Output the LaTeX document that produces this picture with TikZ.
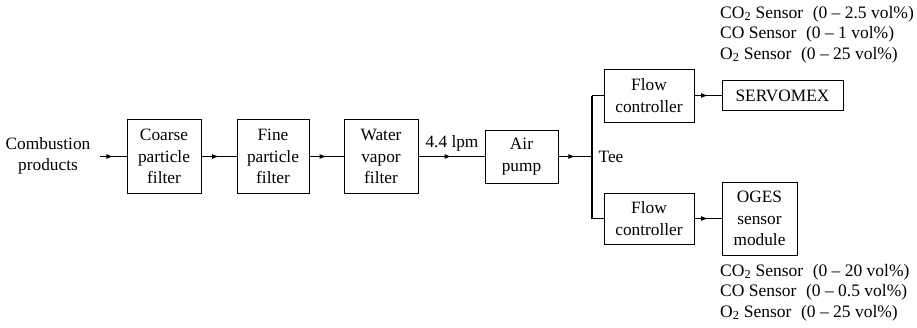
\documentclass[tikz,border=0pt]{standalone}
\usepackage{fontspec}
\setmainfont{Liberation Serif}
\usetikzlibrary{arrows.meta,decorations.markings}
\begin{document}
\begin{tikzpicture}[x=1pt,y=-1pt,
  every node/.style={font=\fontsize{17.3}{21.5}\selectfont},
  blk/.style={draw,line width=1pt,align=center,inner sep=0pt},
  flow/.style={line width=1.1pt,postaction={decorate},
    decoration={markings,mark=at position 0.5 with {\arrow{Latex[length=7pt,width=5pt]}}}},
  plain/.style={line width=1.1pt},
  sens/.style={align=left,anchor=north west,inner sep=0pt,font=\fontsize{17.5}{20.5}\selectfont}]
\useasboundingbox (0,0) rectangle (917,327);
\node (src) at (48,156) [align=center] {Combustion\\products};
\node[blk,minimum width=74pt,minimum height=74pt] (coarse) at (164,156.5) {Coarse\\particle\\filter};
\node[blk,minimum width=72pt,minimum height=74pt] (fine) at (273,156.5) {Fine\\particle\\filter};
\node[blk,minimum width=74pt,minimum height=74pt] (water) at (381,156.5) {Water\\vapor\\filter};
\node[blk,minimum width=73pt,minimum height=53pt] (pump) at (521.5,156.5) {Air\\pump};
\node[blk,minimum width=90pt,minimum height=53pt] (fc1) at (649,95.5) {Flow\\controller};
\node[blk,minimum width=90pt,minimum height=51pt] (fc2) at (649,218.5) {Flow\\controller};
\node[blk,minimum width=121pt,minimum height=30pt] (servo) at (782.5,95.5) {SERVOMEX};
\node[blk,minimum width=75pt,minimum height=73pt] (oges) at (759.5,218.5) {OGES\\sensor\\module};
\coordinate (start) at (100,156.5);
\coordinate (tee) at (592,156.5);
\coordinate (teetop) at (592,95.5);
\coordinate (teebot) at (592,218.5);
\node (lpm) at (452,143) {4.4 lpm};
\node (teelbl) at (611,157) {Tee};
\draw[flow] (start) -- (coarse);
\draw[flow] (coarse) -- (fine);
\draw[flow] (fine) -- (water);
\draw[flow] (water) -- (pump);
\draw[flow] (pump) -- (tee);
\draw[plain] (teetop) -- (teebot);
\draw[plain] (teetop) -- (fc1.west);
\draw[plain] (teebot) -- (fc2.west);
\draw[flow] (fc1) -- (servo);
\draw[flow] (fc2) -- (oges);
\node[sens] (s1) at (720,6) {CO\textsubscript{2} Sensor\hspace{0.55em}(0 -- 2.5 vol\%)\\CO Sensor\hspace{0.55em}(0 -- 1 vol\%)\\O\textsubscript{2} Sensor\hspace{0.55em}(0 -- 25 vol\%)};
\node[sens] (s2) at (720,264) {CO\textsubscript{2} Sensor\hspace{0.55em}(0 -- 20 vol\%)\\CO Sensor\hspace{0.55em}(0 -- 0.5 vol\%)\\O\textsubscript{2} Sensor\hspace{0.55em}(0 -- 25 vol\%)};
\end{tikzpicture}
\end{document}
